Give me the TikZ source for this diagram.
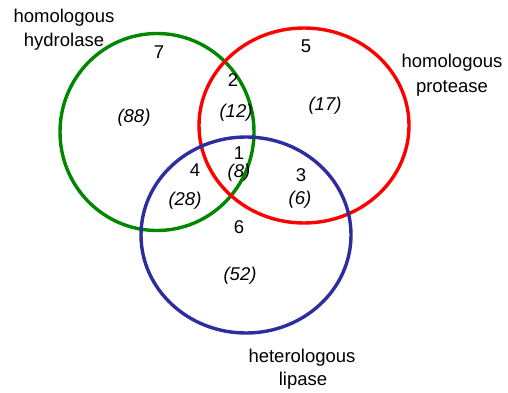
\documentclass[tikz,border=0pt]{standalone}
\usepackage{fontspec}
\setmainfont{Liberation Sans}
\definecolor{vgreen}{RGB}{0,135,0}
\definecolor{vred}{RGB}{255,0,0}
\definecolor{vblue}{RGB}{45,45,160}
\begin{document}
\begin{tikzpicture}[x=1pt,y=-1pt,
  ring/.style={line width=3.4pt},
  lbl/.style={font=\fontsize{18.5}{22}\selectfont, inner sep=0pt, align=center},
  cnt/.style={font=\fontsize{18.5}{22}\selectfont\itshape, inner sep=0pt},
  num/.style={font=\fontsize{18.5}{22}\selectfont, inner sep=0pt}]
\useasboundingbox (0,0) rectangle (508,393);
\draw[ring, vgreen] (157,132) ellipse [x radius=97, y radius=98.5];
\draw[ring, vred] (304,125.5) ellipse [x radius=105, y radius=97.5];
\draw[ring, vblue] (246,235) ellipse [x radius=105, y radius=98];
% labels
\node[lbl] (lh1) at (64,18) {homologous};
\node[lbl] (lh2) at (64,42) {hydrolase};
\node[lbl] (lp1) at (452,63) {homologous};
\node[lbl] (lp2) at (452,88) {protease};
\node[lbl] (ll1) at (302,358) {heterologous};
\node[lbl] (ll2) at (303,381) {lipase};
% numbers
\node[num] (n7) at (159,52) {7};
\node[cnt] (c88) at (134,118) {(88)};
\node[num] (n2) at (233,80) {2};
\node[cnt] (c12) at (236,113) {(12)};
\node[num] (n1) at (239,153) {1};
\node[cnt] (c8) at (239,173) {(8)};
\node[num] (n4) at (195,170) {4};
\node[cnt] (c28) at (185,201) {(28)};
\node[num] (n3) at (301,175) {3};
\node[cnt] (c6) at (300,200) {(6)};
\node[num] (n6) at (239,227) {6};
\node[cnt] (c52) at (240,276) {(52)};
\node[num] (n5) at (306,46) {5};
\node[cnt] (c17) at (325,106) {(17)};
\end{tikzpicture}
\end{document}
